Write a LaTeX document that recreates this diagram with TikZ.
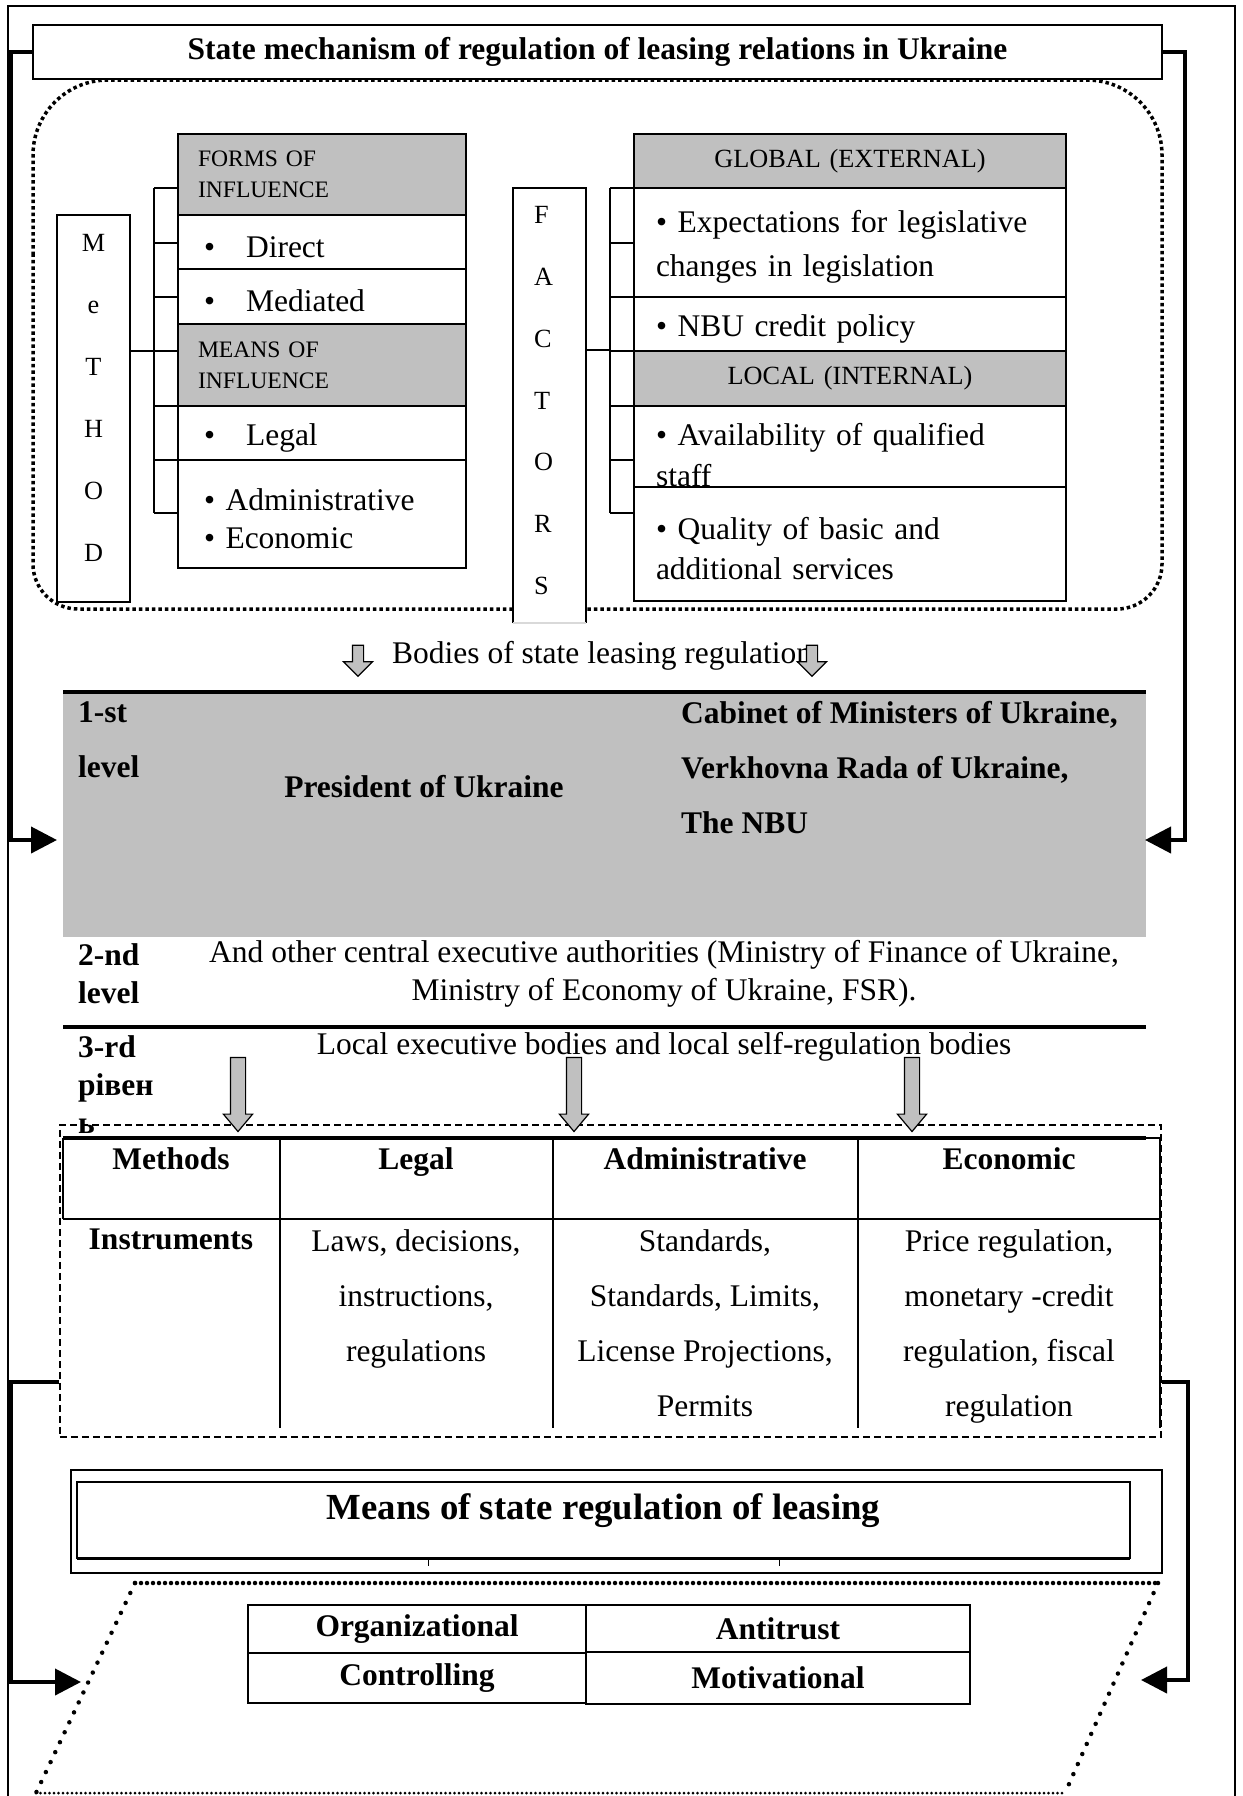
\documentclass[tikz,border=0pt]{standalone}
\usepackage{fontspec}
\setmainfont{Liberation Serif}
\usetikzlibrary{shapes.arrows,arrows.meta,positioning}

\definecolor{shade}{HTML}{C0C0C0}
\newcommand{\txtsize}[1]{\fontsize{31.5}{#1}\selectfont}
\newcommand{\cellstrut}{\rule{0pt}{31pt}}

\tikzset{basic/.style={draw,line width=1.5pt,inner sep=0pt,outer sep=0pt,anchor=north west}}
\tikzset{cell/.style={basic,fill=white,inner xsep=26pt,align=left,font=\txtsize{44}}}
\tikzset{head/.style={basic,fill=shade,inner xsep=20pt,align=left,font=\fontsize{23.6}{31}\selectfont}}
\tikzset{letters/.style={basic,fill=white,minimum width=73pt}}
\tikzset{lvl/.style={inner sep=0pt,anchor=west,align=left,font=\bfseries\txtsize{55}}}
\tikzset{tabtext/.style={inner sep=0pt,anchor=north,align=center,font=\txtsize{55}}}
\tikzset{means/.style={basic,line width=2pt,font=\bfseries\txtsize{40}}}
\tikzset{feedback/.style={draw,line width=4pt,-{Triangle[length=26pt,width=26pt]}}}
\tikzset{bracket/.style={draw,line width=1.5pt}}
\tikzset{thickline/.style={draw,line width=4pt}}
\tikzset{grid/.style={draw,line width=2pt}}
\tikzset{framedots/.style={draw,line width=3.5pt,dash pattern=on 3.5pt off 3pt}}
\tikzset{roundots/.style={draw,line width=4.5pt,line cap=round,dash pattern=on 0pt off #1}}
\tikzset{downarrow/.style={single arrow,draw,fill=shade,line width=1.2pt,shape border rotate=270}}

\begin{document}
\begin{tikzpicture}[x=1pt,y=-1pt]
  \useasboundingbox (0,0) rectangle (1242,1796);
  \fill[white] (0,0) rectangle (1242,1796);
  % outer frame
  \draw[line width=1.5pt] (8,1800) -- (8,6) -- (1235,6) -- (1235,1800);

  % dotted area round methods and factors
  \draw[framedots] (33,300) [rounded corners=75pt] -- (33,80) -- (1162,80) -- (1162,300)
     [rounded corners=45pt] -- (1162,609) -- (33,609) -- cycle;

  \node[basic,fill=white,minimum width=1129pt,minimum height=54pt,font=\bfseries\txtsize{38}] (title) at (33,25)
     {State mechanism of regulation of leasing relations in Ukraine};

  % methods
  \node[letters,align=center,minimum height=387pt,font=\fontsize{26.25}{62}\selectfont] (method) at (57,215)
     {M\\e\\T\\H\\O\\D\rule[-22pt]{0pt}{22pt}};
  \node[head,text width=248pt,minimum height=81pt] (forms) at (178,134) {FORMS OF\\INFLUENCE};
  \node[cell,text width=236pt,minimum height=54pt,below=0pt of forms.south west,anchor=north west] (direct)
     {\cellstrut\textbullet\hspace{31pt}Direct};
  \node[cell,text width=236pt,minimum height=55pt,below=0pt of direct.south west,anchor=north west] (mediated)
     {\cellstrut\textbullet\hspace{31pt}Mediated};
  \node[head,text width=248pt,minimum height=82pt,below=0pt of mediated.south west,anchor=north west] (meansinf)
     {MEANS OF\\INFLUENCE};
  \node[cell,text width=236pt,minimum height=54pt,below=0pt of meansinf.south west,anchor=north west] (legal)
     {\cellstrut\textbullet\hspace{31pt}Legal};
  \node[cell,text width=236pt,minimum height=108pt,below=0pt of legal.south west,anchor=north west,font=\txtsize{38}] (adminecon)
     {\cellstrut\textbullet{} Administrative\\\textbullet{} Economic};

  \draw[bracket] (method.east |- 0,351) -- (154,351);
  \draw[bracket] (154,188) -- (154,513);
  \foreach \y in {188,243,297,351,406,460,513}
    \draw[bracket] (154,\y) -- (forms.west |- 0,\y);

  % factors
  \node[letters,draw=none,align=left,inner xsep=21pt,text width=31pt,minimum height=435pt,font=\fontsize{26.25}{61.7}\selectfont] (factors) at (513,188)
     {F\\A\\C\\T\\O\\R\\S\rule[-10pt]{0pt}{10pt}};
  \draw[line width=1.5pt] (factors.south west) -- (factors.north west) -- (factors.north east) -- (factors.south east);
  \draw[line width=1.5pt,black!15] (factors.south west) -- (factors.south east);

  \node[head,align=center,inner xsep=22pt,text width=388pt,minimum height=54pt,font=\fontsize{26.25}{31}\selectfont] (global) at (634,134)
     {GLOBAL (EXTERNAL)};
  \node[cell,inner xsep=22pt,text width=388pt,minimum height=109pt,below=0pt of global.south west,anchor=north west] (expect)
     {\cellstrut\textbullet{} Expectations for legislative\\changes in legislation};
  \node[cell,inner xsep=22pt,text width=388pt,minimum height=54pt,below=0pt of expect.south west,anchor=north west] (nbu)
     {\cellstrut\textbullet{} NBU credit policy};
  \node[head,align=center,inner xsep=22pt,text width=388pt,minimum height=55pt,font=\fontsize{26.25}{31}\selectfont,below=0pt of nbu.south west,anchor=north west] (local)
     {LOCAL (INTERNAL)};
  \node[cell,inner xsep=22pt,text width=388pt,minimum height=81pt,font=\txtsize{41},below=0pt of local.south west,anchor=north west] (avail)
     {\rule{0pt}{39pt}\textbullet{} Availability of qualified\\staff};
  \node[cell,inner xsep=22pt,text width=388pt,minimum height=114pt,font=\txtsize{40},below=0pt of avail.south west,anchor=north west] (quality)
     {\cellstrut\textbullet{} Quality of basic and\\additional services};

  \draw[bracket] (factors.east |- 0,350) -- (610,350);
  \draw[bracket] (610,188) -- (610,513);
  \foreach \y in {188,243,297,351,406,460,513}
    \draw[bracket] (610,\y) -- (global.west |- 0,\y);

  % bodies of regulation
  \node[inner sep=0pt,anchor=west,font=\txtsize{38}] (bodies) at (392,656) {Bodies of state leasing regulation};
  \node[downarrow,inner sep=5pt,minimum height=31pt,single arrow head extend=9pt] (down1) at (358,658) {};
  \node[downarrow,inner sep=5pt,minimum height=31pt,single arrow head extend=9pt] (down2) at (812,658) {};

  \node[fill=shade,anchor=north west,minimum width=1083pt,minimum height=245pt,inner sep=0pt] (lvlone) at (63,692) {};
  \draw[thickline] (lvlone.north west) -- (lvlone.north east);
  \node[lvl] (one) at (78,740) {1-st\\level};
  \node[lvl,anchor=center] (president) at (424,787) {President of Ukraine};
  \node[lvl] (cabinet) at (681,768) {Cabinet of Ministers of Ukraine,\\Verkhovna Rada of Ukraine,\\The NBU};

  \node[lvl,font=\bfseries\txtsize{38}] (two) at (78,974) {2-nd\\level};
  \node[lvl,anchor=center,align=center,font=\txtsize{38}] (central) at (664,974)
     {And other central executive authorities (Ministry of Finance of Ukraine,\\Ministry of Economy of Ukraine, FSR).};
  \draw[thickline] (lvlone.west |- 0,1027) -- (lvlone.east |- 0,1027);

  \node[lvl,font=\bfseries\txtsize{38}] (three) at (78,1085) {3-rd\\рівен\\ь};
  \node[lvl,anchor=center,font=\txtsize{38}] (localbodies) at (664,1047)
     {Local executive bodies and local self-regulation bodies};

  % methods and instruments
  \node[draw,dash pattern=on 7pt off 4pt,line width=1.6pt,anchor=north west,minimum width=1101pt,minimum height=312pt,inner sep=0pt] (tabframe) at (59,1124) {};
  \foreach \x/\n in {238/a,574/b,912/c}
    \node[downarrow,inner sep=7pt,minimum height=74pt,single arrow head extend=7pt,single arrow tip angle=80] (down\n) at (\x,1090) {};

  \draw[thickline] (63,1138) -- (1146,1138);
  \draw[grid] (1146,1138) -- (1160,1138);
  \draw[grid] (63,1138) -- (63,1219);
  \draw[grid] (63,1219) -- (1160,1219);
  \foreach \x in {280,553,858,1160}
    \draw[grid] (\x,1138) -- (\x,1428);

  \node[tabtext,font=\bfseries\txtsize{55}] (methods) at (171,1147) {Methods};
  \node[tabtext,font=\bfseries\txtsize{55}] (legalhead) at (416,1147) {Legal};
  \node[tabtext,font=\bfseries\txtsize{55}] (adminhead) at (705,1147) {Administrative};
  \node[tabtext,font=\bfseries\txtsize{55}] (econhead) at (1009,1147) {Economic};
  \node[tabtext,font=\bfseries\txtsize{55}] (instruments) at (171,1229) {Instruments};
  \node[tabtext] (legaltools) at (416,1229) {Laws, decisions,\\instructions,\\regulations};
  \node[tabtext] (admintools) at (705,1229) {Standards,\\Standards, Limits,\\License Projections,\\Permits};
  \node[tabtext] (econtools) at (1009,1229) {Price regulation,\\monetary -credit\\regulation, fiscal\\regulation};

  % means of regulation
  \node[means,minimum width=1091pt,minimum height=103pt] (meansouter) at (71,1470) {};
  \node[means,minimum width=1053pt,minimum height=76pt,font=\bfseries\fontsize{36.75}{44}\selectfont,text height=24pt,text depth=26pt] (meanstitle) at (77,1482)
     {Means of state regulation of leasing};
  \draw[line width=3pt] (meanstitle.south west) -- (meanstitle.south east);
  \foreach \x in {428,779}
    \draw[line width=1pt] (\x,1558) -- (\x,1566);

  \draw[roundots=6pt] (135,1583) -- (1158,1583);
  \draw[roundots=11pt] (135,1583) -- (36,1793);
  \draw[roundots=11pt] (1158,1583) -- (1065,1793);
  \draw[roundots=4.5pt,line width=3pt] (36,1793) -- (1065,1793);

  \node[means,minimum width=338pt,minimum height=48pt] (org) at (248,1605) {Organizational};
  \node[means,minimum width=384pt,minimum height=47pt] (antitrust) at (586,1605) {Antitrust};
  \node[means,minimum width=338pt,minimum height=50pt,below=0pt of org.south west,anchor=north west] (control) {Controlling};
  \node[means,minimum width=384pt,minimum height=52pt,below=0pt of antitrust.south west,anchor=north west] (motiv) {Motivational};

  % feedback connectors
  \coordinate (inleft) at (57,840);
  \coordinate (inright) at (1145,840);
  \coordinate (meansleft) at (81,1682);
  \coordinate (meansright) at (1141,1680);
  \draw[feedback] (title.west) -- ++(-22,0) |- (inleft);
  \draw[feedback] (title.east) -- ++(23,0) |- (inright);
  \draw[line width=1.5pt] ([xshift=18pt]inright) ++(0,-9) -- ++(0,18);
  \draw[feedback] (tabframe.west |- 0,1382) -- ++(-48,0) |- (meansleft);
  \draw[feedback] (tabframe.east |- 0,1382) -- ++(26,0) |- (meansright);
\end{tikzpicture}
\end{document}
